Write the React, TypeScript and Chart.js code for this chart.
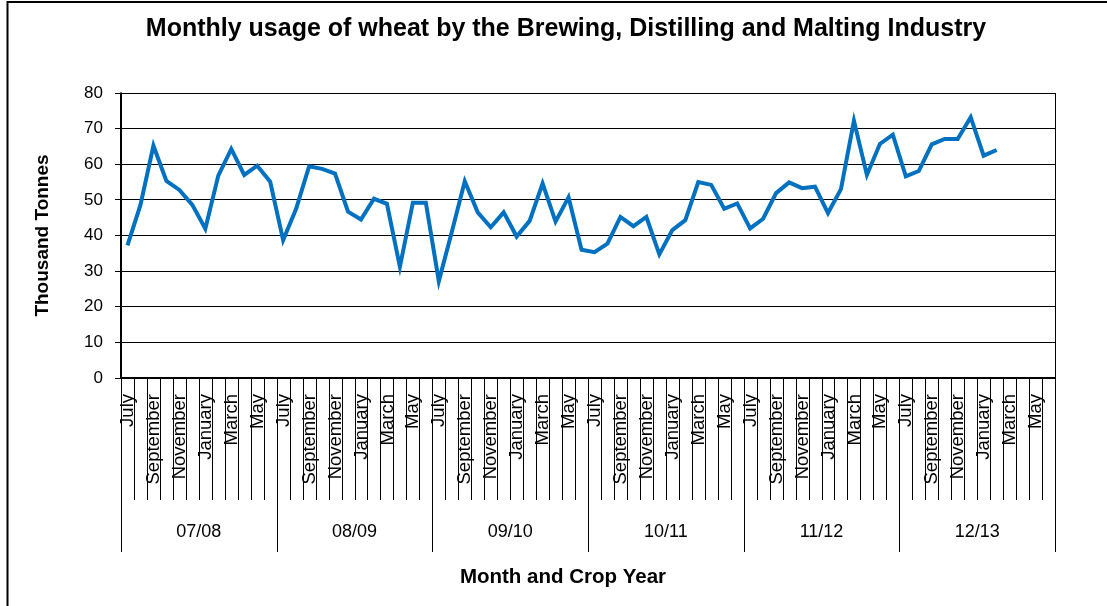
import React, { useEffect, useRef } from 'react';
import { Chart, registerables } from 'chart.js';

Chart.register(...registerables);

const chartTitle = 'Monthly usage of wheat by the Brewing, Distilling and Malting Industry';
const yAxisTitle = 'Thousand Tonnes';
const xAxisTitle = 'Month and Crop Year';

const cropYears = ['07/08', '08/09', '09/10', '10/11', '11/12', '12/13'];
const monthNames = ['July', 'August', 'September', 'October', 'November', 'December', 'January', 'February', 'March', 'April', 'May', 'June'];
const monthTickLabels = ['July', '', 'September', '', 'November', '', 'January', '', 'March', '', 'May', ''];

const usage0708 = [37.2, 48.6, 65.2, 55.3, 52.8, 48.6, 41.9, 56.8, 64.3, 57.0, 59.6, 55.1];
const usage0809 = [38.7, 47.5, 59.4, 58.7, 57.4, 46.7, 44.5, 50.3, 48.9, 31.2, 49.2, 49.2];
const usage0910 = [27.2, 41.0, 55.2, 46.5, 42.3, 46.5, 39.7, 44.1, 54.6, 43.9, 50.7, 36.0];
const usage1011 = [35.3, 37.7, 45.2, 42.6, 45.2, 34.7, 41.5, 44.3, 55.0, 54.2, 47.5, 49.0];
const usage1112 = [42.0, 44.7, 51.9, 54.9, 53.3, 53.7, 46.3, 53.0, 72.2, 57.0, 65.7, 68.3];
const usage1213 = [56.6, 58.1, 65.6, 67.1, 67.1, 73.2, 62.4, 64.0];

const yTickValues = [0, 10, 20, 30, 40, 50, 60, 70, 80];

const FONT = '"Liberation Sans", Arial, Helvetica, sans-serif';

const decorPlugin = {
  id: 'decor',
  afterDraw(chart: any) {
    const ctx = chart.ctx as CanvasRenderingContext2D;
    const { left, right, top, bottom } = chart.chartArea;
    const xs = chart.scales.x;
    const n = chart.data.labels.length;
    const step = (right - left) / n;
    const boundary = (i: number) =>
      i < n ? xs.getPixelForValue(i) - step / 2 : xs.getPixelForValue(n - 1) + step / 2;

    ctx.save();
    ctx.fillStyle = '#000';
    ctx.strokeStyle = '#000';

    // outer frame (top & left visible)
    ctx.lineWidth = 2;
    ctx.beginPath();
    ctx.moveTo(7.5, 1000);
    ctx.lineTo(7.5, 2);
    ctx.lineTo(2000, 2);
    ctx.stroke();

    // plot frame
    ctx.lineWidth = 1;
    ctx.beginPath();
    ctx.moveTo(Math.round(right) + 0.5, top);
    ctx.lineTo(Math.round(right) + 0.5, bottom);
    ctx.stroke();
    ctx.lineWidth = 2;
    ctx.beginPath();
    ctx.moveTo(left, top - 0.5);
    ctx.lineTo(left, bottom + 1);
    ctx.moveTo(left - 1, bottom);
    ctx.lineTo(right + 1, bottom);
    ctx.stroke();

    // category separators
    ctx.lineWidth = 1;
    ctx.beginPath();
    for (let i = 0; i <= n; i++) {
      const bx = Math.round(boundary(i)) + 0.5;
      const isYear = i % 12 === 0;
      ctx.moveTo(bx, bottom);
      ctx.lineTo(bx, isYear ? 552 : 500);
    }
    ctx.stroke();

    // month labels
    ctx.font = `18.5px ${FONT}`;
    ctx.textAlign = 'right';
    ctx.textBaseline = 'middle';
    for (let i = 0; i < n; i++) {
      const lab = monthTickLabels[i % 12];
      if (!lab) continue;
      ctx.save();
      ctx.translate(xs.getPixelForValue(i) + 0.5, 394);
      ctx.rotate(-Math.PI / 2);
      ctx.fillText(lab, 0, 0);
      ctx.restore();
    }

    // crop year labels
    ctx.font = `18px ${FONT}`;
    ctx.textAlign = 'center';
    ctx.textBaseline = 'alphabetic';
    cropYears.forEach((yr, k) => {
      const cx = (boundary(k * 12) + boundary(k * 12 + 12)) / 2;
      ctx.fillText(yr, cx, 537);
    });

    // title
    ctx.font = `bold 25px ${FONT}`;
    ctx.fillText(chartTitle, 566, 36);

    // x axis title
    ctx.font = `bold 20.5px ${FONT}`;
    ctx.fillText(xAxisTitle, 563, 583);

    // y axis title
    ctx.font = `bold 19px ${FONT}`;
    ctx.save();
    ctx.translate(43, (top + bottom) / 2);
    ctx.rotate(-Math.PI / 2);
    ctx.textBaseline = 'middle';
    ctx.fillText(yAxisTitle, 0, 0);
    ctx.restore();

    ctx.restore();
  },
};

export default function App() {
  const canvasRef = useRef<HTMLCanvasElement | null>(null);

  useEffect(() => {
    if (!canvasRef.current) return;
    const labels = cropYears.flatMap((yr) => monthNames.map((m) => `${m} ${yr}`));
    const values = [...usage0708, ...usage0809, ...usage0910, ...usage1011, ...usage1112, ...usage1213];
    const chart = new Chart(canvasRef.current, {
      type: 'line',
      data: {
        labels,
        datasets: [
          {
            label: 'Usage',
            data: values,
            borderColor: '#0070C0',
            backgroundColor: '#0070C0',
            borderWidth: 4,
            pointRadius: 0,
            pointHoverRadius: 0,
            tension: 0,
            fill: false,
          },
        ],
      },
      options: {
        responsive: false,
        animation: false,
        devicePixelRatio: 1,
        layout: { padding: { top: 93, right: 52, left: 0, bottom: 0 } },
        plugins: {
          legend: { display: false },
          tooltip: { enabled: false },
          title: { display: false },
        },
        scales: {
          x: {
            type: 'category',
            offset: true,
            grid: { display: false },
            border: { display: false },
            ticks: { display: false },
            afterFit: (s: any) => {
              s.height = 228;
              s.paddingLeft = 0;
              s.paddingRight = 0;
            },
          },
          y: {
            min: yTickValues[0],
            max: yTickValues[yTickValues.length - 1],
            ticks: {
              stepSize: 10,
              color: '#000',
              padding: 12,
              font: { family: FONT, size: 17 },
            },
            grid: { color: '#000', lineWidth: 1, tickLength: 6, drawTicks: true },
            border: { display: false },
            afterFit: (s: any) => {
              s.width = 121;
              s.paddingTop = 0;
              s.paddingBottom = 0;
            },
          },
        },
      },
      plugins: [decorPlugin],
    });
    return () => chart.destroy();
  }, []);

  return (
    <div style={{ position: 'fixed', left: 0, top: 0, width: 1107, height: 606, background: '#fff' }}>
      <canvas ref={canvasRef} width={1107} height={606} style={{ width: 1107, height: 606 }} />
    </div>
  );
}
